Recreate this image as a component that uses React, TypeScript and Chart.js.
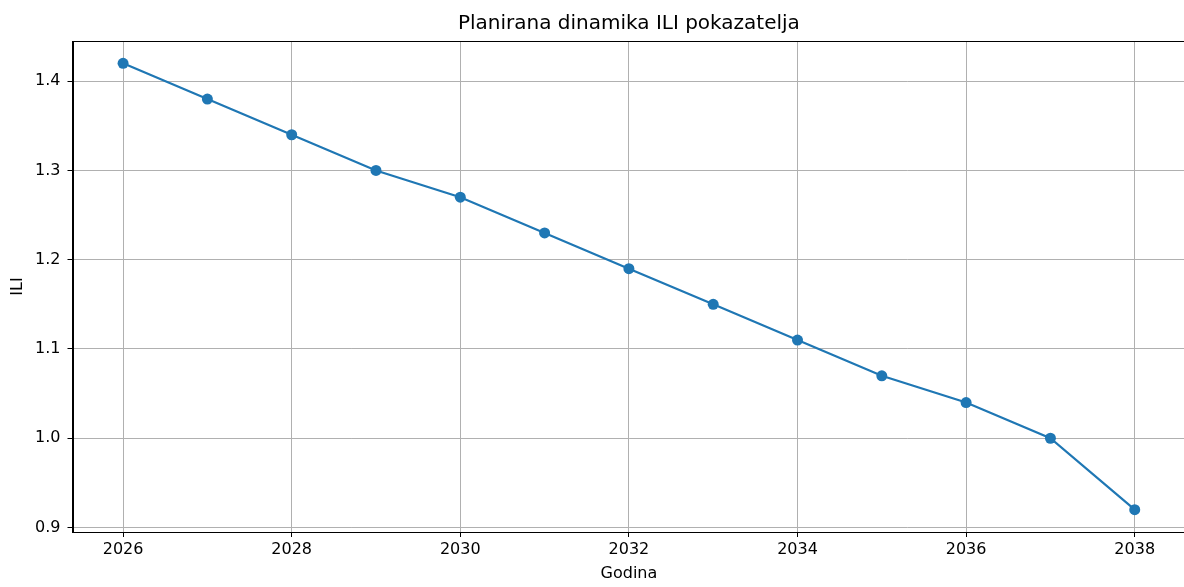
import React, { useEffect, useRef } from "react";
import { Chart, registerables } from "chart.js";

Chart.register(...registerables);

const years = [2026, 2027, 2028, 2029, 2030, 2031, 2032, 2033, 2034, 2035, 2036, 2037, 2038];
const iliValues = [1.42, 1.38, 1.34, 1.30, 1.27, 1.23, 1.19, 1.15, 1.11, 1.07, 1.04, 1.00, 0.92];
const xTicks = [2026, 2028, 2030, 2032, 2034, 2036, 2038];
const yTicks = [0.9, 1.0, 1.1, 1.2, 1.3, 1.4];
const chartTitle = "Planirana dinamika ILI pokazatelja";

const W = 1184;
const H = 587;
const CANVAS_W = 1186;
const FONT = "'DejaVu Sans', sans-serif";

const frameAndTitle = {
  id: "frameAndTitle",
  afterDraw(chart: any) {
    const { ctx, chartArea } = chart;
    ctx.save();
    ctx.strokeStyle = "#000";
    ctx.lineWidth = 1;
    ctx.strokeRect(
      Math.round(chartArea.left) + 0.5,
      Math.round(chartArea.top) + 0.5,
      Math.round(chartArea.right - chartArea.left) - 1,
      Math.round(chartArea.bottom - chartArea.top)
    );
    ctx.fillStyle = "#000";
    ctx.font = `20px ${FONT}`;
    ctx.textAlign = "center";
    ctx.textBaseline = "middle";
    ctx.fillText(chartTitle, (chartArea.left + chartArea.right) / 2, 23.5);
    ctx.restore();
  },
};

export default function App() {
  const ref = useRef<HTMLCanvasElement>(null);
  useEffect(() => {
    document.body.style.margin = "0";
    const chart = new Chart(ref.current!, {
      type: "line",
      data: {
        datasets: [
          {
            data: years.map((y, i) => ({ x: y, y: iliValues[i] })),
            borderColor: "#1f77b4",
            backgroundColor: "#1f77b4",
            borderWidth: 2.2,
            pointRadius: 5.5,
            pointBorderWidth: 0,
            pointBackgroundColor: "#1f77b4",
            tension: 0,
          },
        ],
      },
      options: {
        responsive: false,
        animation: false,
        layout: { autoPadding: false, padding: { left: 0, right: 0.7, top: 41, bottom: 0 } },
        plugins: {
          legend: { display: false },
          tooltip: { enabled: false },
          title: { display: false },
        },
        scales: {
          x: {
            type: "linear",
            min: 2025.4,
            max: 2038.6,
            afterBuildTicks: (s: any) => {
              s.ticks = xTicks.map((v) => ({ value: v }));
            },
            afterFit: (s: any) => {
              s.height = 55;
              s.paddingLeft = 0;
              s.paddingRight = 0;
            },
            ticks: {
              color: "#000",
              font: { family: FONT, size: 16 },
              padding: 3,
              maxRotation: 0,
              autoSkip: false,
              callback: (v: any) => String(v),
            },
            grid: { color: "#b0b0b0", lineWidth: 1, tickColor: "#000", tickLength: 5 },
            border: { color: "#000", width: 1 },
            title: {
              display: true,
              text: "Godina",
              color: "#000",
              font: { family: FONT, size: 16 },
              padding: { top: 0, bottom: 4 },
            },
          },
          y: {
            type: "linear",
            min: 0.895,
            max: 1.445,
            afterBuildTicks: (s: any) => {
              s.ticks = yTicks.map((v) => ({ value: v }));
            },
            afterFit: (s: any) => {
              s.width = 72.5;
              s.paddingTop = 0;
              s.paddingBottom = 0;
            },
            ticks: {
              color: "#000",
              font: { family: FONT, size: 16 },
              padding: 7,
              autoSkip: false,
              callback: (v: any) => Number(v).toFixed(1),
            },
            grid: { color: "#b0b0b0", lineWidth: 1, tickColor: "#000", tickLength: 5 },
            border: { color: "#000", width: 1 },
            title: {
              display: true,
              text: "ILI",
              color: "#000",
              font: { family: FONT, size: 16 },
              padding: { top: 8, bottom: 0 },
            },
          },
        },
      },
      plugins: [frameAndTitle],
    });
    return () => chart.destroy();
  }, []);
  return (
    <div style={{ position: "absolute", left: 0, top: 0, width: W, height: H, background: "#fff", overflow: "hidden" }}>
      <canvas ref={ref} width={CANVAS_W} height={H} />
    </div>
  );
}
